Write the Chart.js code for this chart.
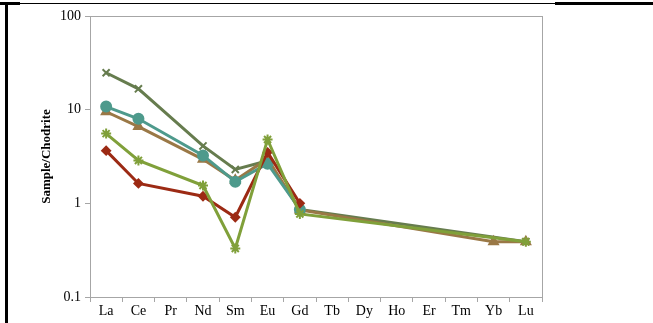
<!DOCTYPE html>
<html>
<head>
<meta charset="utf-8">
<script src="https://cdn.jsdelivr.net/npm/chart.js@4/dist/chart.umd.min.js"></script>
<style>
  html, body { margin: 0; padding: 0; background: #fff; }
  #wrap { position: relative; width: 653px; height: 323px; overflow: hidden; }
  canvas { position: absolute; left: 0; top: 0; }
  .ln { position: absolute; background: #000; }
</style>
</head>
<body>
<div id="wrap">
  <canvas id="reeChart" width="653" height="323"></canvas>
  <div class="ln" style="left:0;top:2px;width:20px;height:3px"></div>
  <div class="ln" style="left:20px;top:3px;width:535px;height:1px"></div>
  <div class="ln" style="left:555px;top:2px;width:98px;height:3px"></div>
  <div class="ln" style="left:5px;top:2px;width:3px;height:321px"></div>
</div>
<script>
// Rare earth elements (chondrite normalised)
const elements = ['La', 'Ce', 'Pr', 'Nd', 'Sm', 'Eu', 'Gd', 'Tb', 'Dy', 'Ho', 'Er', 'Tm', 'Yb', 'Lu'];
const yTicks = [0.1, 1, 10, 100];

const sampleRed    = [3.65, 1.63, null, 1.19, 0.71, 3.5, 1.0, null, null, null, null, null, null, null];
const sampleBrown  = [9.5, 6.6, null, 2.95, 1.76, 3.0, 0.85, null, null, null, null, null, 0.39, 0.39];
const sampleTeal   = [10.8, 8.0, null, 3.25, 1.7, 2.65, 0.86, null, null, null, null, null, null, null];
const sampleOlive  = [24.8, 16.7, null, 4.1, 2.3, 2.85, 0.86, null, null, null, null, null, null, 0.39];
const sampleGreen  = [5.55, 2.87, null, 1.55, 0.33, 4.8, 0.77, null, null, null, null, null, null, 0.39];

function series(data, color, style, radius) {
  return {
    data: data,
    borderColor: color,
    backgroundColor: color,
    borderWidth: 3,
    pointStyle: style,
    pointRadius: radius,
    pointBorderWidth: 2,
    pointBorderColor: color,
    pointBackgroundColor: color,
    spanGaps: true,
    tension: 0
  };
}

// draws the grey box round the plot area
const plotBox = {
  id: 'plotBox',
  afterDraw(chart) {
    const a = chart.chartArea;
    const c = chart.ctx;
    c.save();
    c.strokeStyle = '#a6a6a6';
    c.lineWidth = 1;
    c.strokeRect(a.left + 0.5, a.top + 0.5, a.right - a.left, a.bottom - a.top);
    c.restore();
  }
};

const ctx = document.getElementById('reeChart').getContext('2d');
new Chart(ctx, {
  type: 'line',
  data: {
    labels: elements,
    datasets: [
      series(sampleGreen, '#80a03a', 'star', 5),
      series(sampleRed, '#9c2a14', 'rectRot', 4),
      series(sampleTeal, '#4e9a8c', 'circle', 5),
      series(sampleBrown, '#9a7846', 'triangle', 5),
      series(sampleOlive, '#667c4e', 'crossRot', 5)
    ]
  },
  options: {
    responsive: false,
    animation: false,
    layout: { padding: { left: 39, top: 16, right: 111, bottom: 0 } },
    plugins: { legend: { display: false }, tooltip: { enabled: false } },
    scales: {
      x: {
        offset: true,
        grid: { offset: true, drawOnChartArea: false, color: '#a6a6a6', tickLength: 5 },
        border: { color: '#a6a6a6' },
        ticks: { color: '#000', font: { family: 'Liberation Serif', size: 14 }, padding: 1, maxRotation: 0, autoSkip: false },
        afterFit(scale) { scale.height = 26; }
      },
      y: {
        type: 'logarithmic',
        min: 0.1,
        max: 100,
        afterBuildTicks(scale) { scale.ticks = yTicks.map(v => ({ value: v })); },
        grid: { drawOnChartArea: false, color: '#a6a6a6', tickLength: 5 },
        border: { color: '#a6a6a6' },
        ticks: {
          color: '#000',
          font: { family: 'Liberation Serif', size: 14 },
          padding: 4,
          callback: v => String(v)
        },
        title: {
          display: true,
          text: 'Sample/Chodrite',
          color: '#000',
          font: { family: 'Liberation Serif', size: 13, weight: 'bold' },
          padding: 0
        },
        afterFit(scale) { scale.width = 51; }
      }
    }
  },
  plugins: [plotBox]
});
</script>
</body>
</html>
